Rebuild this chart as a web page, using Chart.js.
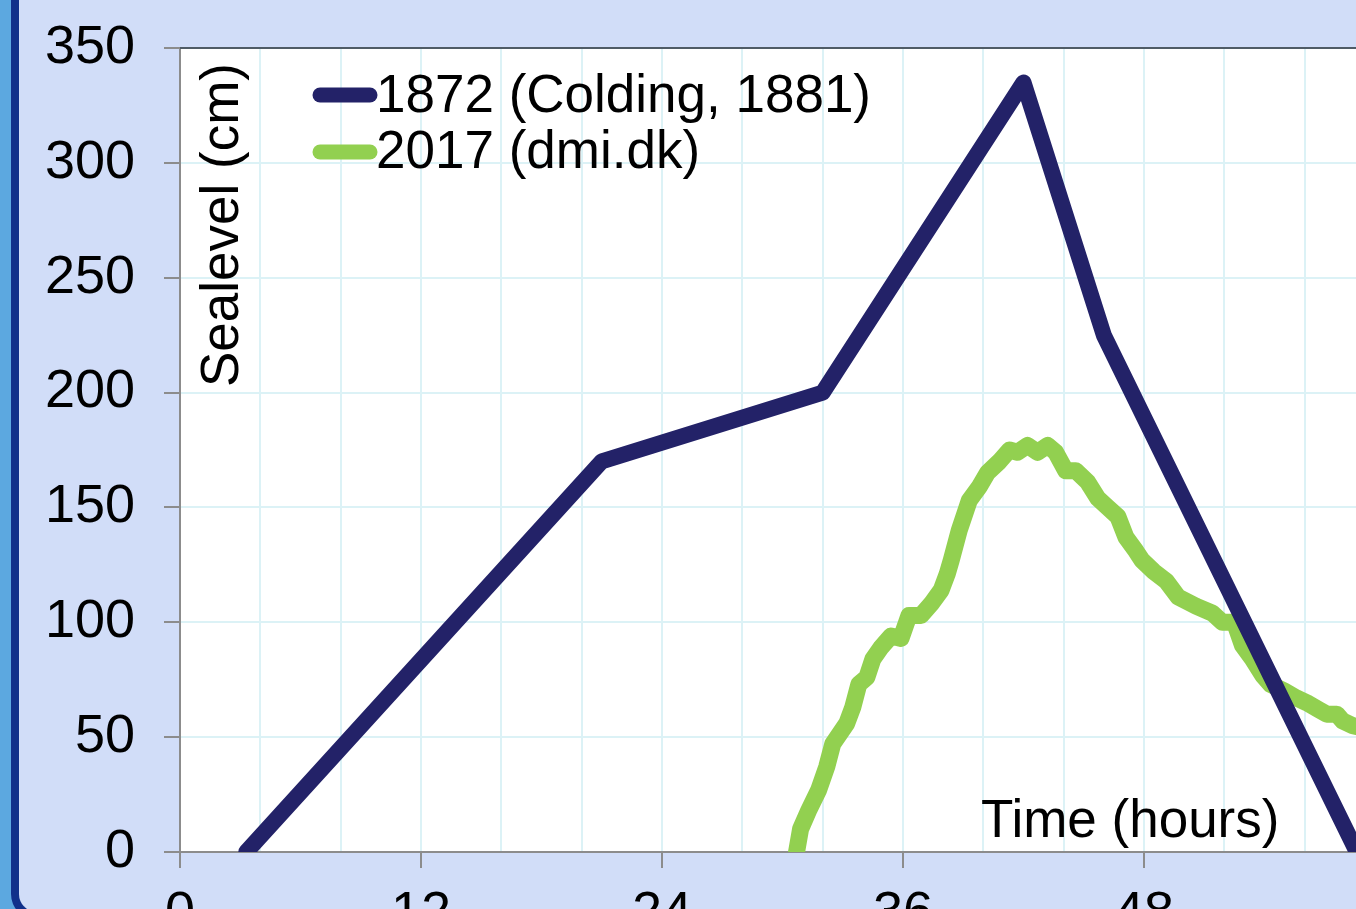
<!DOCTYPE html>
<html>
<head>
<meta charset="utf-8">
<script src="https://cdn.jsdelivr.net/npm/chart.js@4"></script>
<style>
  html, body { margin:0; padding:0; width:1356px; height:909px; overflow:hidden; background:#5ca8e0; }
  #frame { position:absolute; left:11px; top:-40px; width:1420px; height:960px; background:#d1ddf8;
           border-left:8px solid #10308a; border-bottom:8px solid #10308a; border-bottom-left-radius:26px; box-sizing:border-box; }
  #chart { position:absolute; left:0; top:0; }
</style>
</head>
<body>
<div id="frame"></div>
<canvas id="chart" width="1400" height="960"></canvas>
<script>
// 1872 storm surge (Colding, 1881)
const hours1872 = [3.3, 21, 32, 42, 46, 58.6];
const level1872 = [0, 170, 200, 335, 225, 0];

// 2017 storm surge (dmi.dk)
const hours2017 = [30.7, 30.9, 31.3, 31.8, 32.2, 32.5, 33.2, 33.5, 33.8, 34.2, 34.5, 34.9, 35.4, 35.9,
  36.3, 36.9, 37.4, 37.9, 38.2, 38.4, 38.8, 39.3, 39.8, 40.2, 40.8, 41.3, 41.7, 42.2, 42.7, 43.2, 43.6,
  44.1, 44.6, 45.2, 45.7, 46.2, 46.7, 47.1, 47.6, 47.9, 48.5, 49.1, 49.7, 50.6, 51.4, 51.9, 52.5, 52.9,
  53.4, 53.9, 54.3, 55.0, 55.6, 56.1, 56.7, 57.1, 57.6, 57.9, 58.4, 58.9];
const level2017 = [0, 10, 18, 27, 37, 47, 56, 63, 73, 76, 84, 89, 94, 93,
  103, 103, 108, 114, 121, 127, 140, 153, 159, 165, 170, 175, 174, 177, 174, 177, 174,
  166, 166, 161, 154, 150, 146, 137, 131, 127, 122, 118, 111, 107, 104, 100, 100, 90,
  84, 77, 73, 70, 67, 65, 62, 60, 60, 57, 55, 54];

const seriesNames = ['1872 (Colding, 1881)', '2017 (dmi.dk)'];
const seriesColors = ['#232268', '#92d050'];

const xTickLabels = [0, 12, 24, 36, 48];
const yTicks = [0, 50, 100, 150, 200, 250, 300, 350];

const FONT = '"Liberation Sans", Arial, sans-serif';
const AXIS_GREY = '#8c8c8c';
const GRID = '#dcf2f6';

const toPoints = (xs, ys) => xs.map((x, i) => ({ x, y: ys[i] }));

const plotFrame = {
  id: 'plotFrame',
  beforeDraw(chart) {
    const { ctx, chartArea: a } = chart;
    ctx.save();
    ctx.fillStyle = '#fff';
    ctx.fillRect(a.left, a.top, a.right - a.left, a.bottom - a.top);
    ctx.restore();
  },
  afterDraw(chart) {
    const { ctx, chartArea: a } = chart;
    ctx.save();
    // top border of the plot
    ctx.strokeStyle = '#4f5b66';
    ctx.lineWidth = 2;
    ctx.beginPath(); ctx.moveTo(a.left, a.top); ctx.lineTo(a.right, a.top); ctx.stroke();

    ctx.fillStyle = '#000';
    ctx.font = `53px ${FONT}`;
    // y title, inside the plot
    ctx.save();
    ctx.translate(238, 225);
    ctx.rotate(-Math.PI / 2);
    ctx.textAlign = 'center';
    ctx.textBaseline = 'alphabetic';
    ctx.fillText('Sealevel (cm)', 0, 0);
    ctx.restore();
    // x title, inside the plot
    ctx.textAlign = 'left';
    ctx.textBaseline = 'alphabetic';
    ctx.fillText('Time (hours)', 981, 837);

    // legend
    chart.data.datasets.forEach((ds, i) => {
      const y = 95 + i * 57;
      ctx.strokeStyle = ds.borderColor;
      ctx.lineWidth = 15;
      ctx.lineCap = 'round';
      ctx.beginPath(); ctx.moveTo(320, y); ctx.lineTo(370, y); ctx.stroke();
      ctx.fillText(ds.label, 376, 112 + i * 56);
    });
    ctx.restore();
  }
};

new Chart(document.getElementById('chart'), {
  type: 'line',
  data: {
    datasets: [
      { label: seriesNames[0], data: toPoints(hours1872, level1872), borderColor: seriesColors[0], borderWidth: 16,
        borderJoinStyle: 'round', borderCapStyle: 'round', pointRadius: 0, clip: 0 },
      { label: seriesNames[1], data: toPoints(hours2017, level2017), borderColor: seriesColors[1], borderWidth: 17,
        borderJoinStyle: 'round', borderCapStyle: 'round', pointRadius: 0, clip: 0 }
    ]
  },
  options: {
    responsive: false,
    animation: false,
    layout: { padding: { top: 48, right: 15, left: 0, bottom: 0 } },
    plugins: { legend: { display: false }, tooltip: { enabled: false } },
    scales: {
      x: {
        type: 'linear', min: 0, max: 60,
        afterFit: s => { s.height = 108; s.paddingLeft = 0; s.paddingRight = 0; },
        ticks: {
          stepSize: 4, autoSkip: false, maxRotation: 0, padding: 14, color: '#000',
          font: { family: FONT, size: 54 },
          callback: v => xTickLabels.includes(v) ? String(v) : ''
        },
        grid: { color: GRID, lineWidth: 2, tickLength: 16, tickWidth: 2,
                tickColor: c => (c.tick && xTickLabels.includes(c.tick.value)) ? AXIS_GREY : 'rgba(0,0,0,0)' },
        border: { color: AXIS_GREY, width: 2 }
      },
      y: {
        min: 0, max: 350,
        afterFit: s => { s.width = 180; s.paddingTop = 0; s.paddingBottom = 0; },
        afterBuildTicks: s => { s.ticks = yTicks.map(v => ({ value: v })); },
        ticks: { padding: 29, color: '#000', font: { family: FONT, size: 54 } },
        grid: { color: GRID, lineWidth: 2, tickLength: 16, tickWidth: 2, tickColor: AXIS_GREY },
        border: { color: AXIS_GREY, width: 2 }
      }
    }
  },
  plugins: [plotFrame]
});
</script>
</body>
</html>
